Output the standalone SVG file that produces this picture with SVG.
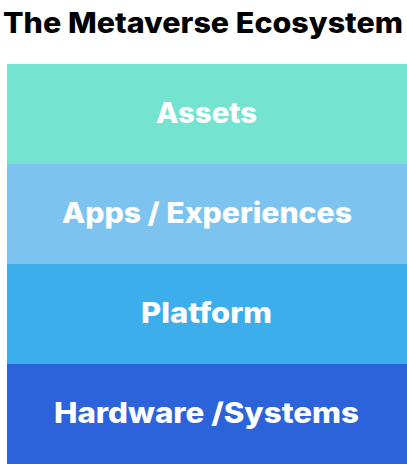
<svg xmlns="http://www.w3.org/2000/svg" width="407" height="464" viewBox="0 0 407 464">
<style>
.title{font-family:"Inter","Open Sans","Liberation Sans",sans-serif;font-weight:800;font-size:28px;fill:#000}
.lbl{font-family:"Inter","Open Sans","Liberation Sans",sans-serif;font-weight:800;font-size:28px;fill:#fff;text-anchor:middle}
</style>
<rect width="407" height="464" fill="#fff"/>
<text class="title" x="3" y="33" textLength="400" lengthAdjust="spacingAndGlyphs">The Metaverse Ecosystem</text>
<g id="assets">
<rect x="7" y="64" width="400" height="100" fill="#74E3D0"/>
<text class="lbl" x="206.5" y="123" textLength="101" lengthAdjust="spacingAndGlyphs">Assets</text>
</g>
<g id="apps">
<rect x="7" y="164" width="400" height="100" fill="#7CC4EF"/>
<text class="lbl" x="207" y="223" textLength="290" lengthAdjust="spacingAndGlyphs">Apps / Experiences</text>
</g>
<g id="platform">
<rect x="7" y="264" width="400" height="100" fill="#3DAEEC"/>
<text class="lbl" x="206.5" y="323" textLength="131" lengthAdjust="spacingAndGlyphs">Platform</text>
</g>
<g id="hardware">
<rect x="7" y="364" width="400" height="100" fill="#2C63DA"/>
<text class="lbl" x="206.5" y="423" textLength="305" lengthAdjust="spacingAndGlyphs">Hardware /Systems</text>
</g>
<g id="connectors"/>
</svg>
